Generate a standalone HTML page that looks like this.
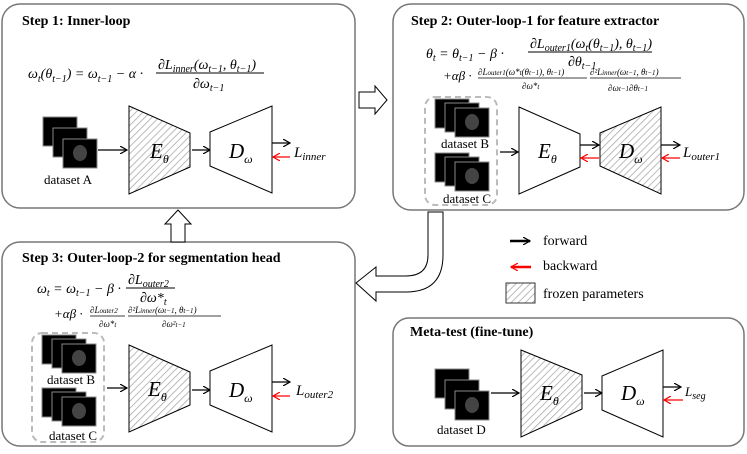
<!DOCTYPE html>
<html><head><meta charset="utf-8"><style>
body{margin:0;background:#fff;}
svg{display:block;font-family:"Liberation Serif",serif;}
.t{font-family:"Liberation Serif",serif;font-weight:bold;font-size:14px;}
.m{font-family:"Liberation Serif",serif;font-style:italic;}
</style></head><body>
<svg width="747" height="454" viewBox="0 0 747 454" xmlns="http://www.w3.org/2000/svg">
<defs>
<pattern id="h" width="5" height="5" patternUnits="userSpaceOnUse" patternTransform="rotate(45)">
<rect width="5" height="5" fill="#fff"/><line x1="0" y1="0" x2="0" y2="5" stroke="#aaa" stroke-width="1.6"/>
</pattern>
<marker id="a" markerWidth="8" markerHeight="8" refX="7" refY="4" orient="auto" markerUnits="userSpaceOnUse"><path d="M0,0 L7,4 L0,8" fill="none" stroke="#000" stroke-width="1.2"/></marker>
<marker id="r" markerWidth="8" markerHeight="8" refX="7" refY="4" orient="auto" markerUnits="userSpaceOnUse"><path d="M0,0 L7,4 L0,8" fill="none" stroke="#f00" stroke-width="1.2"/></marker>
<g id="img"><rect width="34" height="29" fill="#000" stroke="#888" stroke-width="1"/></g>
<g id="stack">
<use href="#img" x="0" y="0"/><use href="#img" x="10" y="11"/><use href="#img" x="20" y="22"/>
<ellipse cx="37" cy="36" rx="7" ry="8" fill="#444"/>
</g>
<g id="stack2">
<use href="#img" x="0" y="0"/><use href="#img" x="10" y="4"/><use href="#img" x="20" y="9"/>
<ellipse cx="37" cy="23" rx="7" ry="8" fill="#444"/>
</g>
</defs>
<g fill="none" stroke="#777" stroke-width="1.5">
<rect x="2" y="4" width="353" height="204" rx="18"/>
<rect x="393" y="4" width="351" height="206" rx="18"/>
<rect x="2" y="242" width="353" height="204" rx="18"/>
<rect x="393" y="318" width="351" height="128" rx="16"/>
</g>
<!-- block arrows -->
<path d="M359,92 L375,92 L375,86 L387,100 L375,114 L375,108 L359,108 Z" fill="#fff" stroke="#000"/>
<path d="M171,242 L171,224 L165,224 L178,210 L191,224 L185,224 L185,242 Z" fill="#fff" stroke="#000"/>
<path d="M428,212 L443,212 L443,255 Q443,292 406,292 L376,292 L376,301 L356,283 L376,267 L376,276 L406,276 Q428,276 428,255 Z" fill="#fff" stroke="#000"/>
<!-- Step 1 -->
<text x="22" y="25" class="t">Step 1: Inner-loop</text>
<text x="28" y="78" font-size="14" class="m">ω<tspan font-size="10" dy="4">t</tspan><tspan dy="-4">(θ</tspan><tspan font-size="10" dy="4">t−1</tspan><tspan dy="-4">) = ω</tspan><tspan font-size="10" dy="4">t−1</tspan><tspan dy="-4"> − α ·</tspan></text>
<text x="158" y="69" font-size="14" class="m">∂L<tspan font-size="10" dy="3">inner</tspan><tspan dy="-3">(ω</tspan><tspan font-size="10" dy="3">t−1</tspan><tspan dy="-3">, θ</tspan><tspan font-size="10" dy="3">t−1</tspan><tspan dy="-3">)</tspan></text>
<line x1="156" y1="73" x2="264" y2="73" stroke="#000"/>
<text x="193" y="88" font-size="14" class="m">∂ω<tspan font-size="10" dy="3">t−1</tspan></text>
<use href="#stack" x="43" y="117"/>
<text x="44" y="184" font-size="13">dataset A</text>
<line x1="98" y1="150" x2="127" y2="150" stroke="#000" stroke-width="1.2" marker-end="url(#a)"/>
<path d="M129,106 L190,133 L190,167 L129,194 Z" fill="url(#h)" stroke="#000"/>
<text x="150" y="158" font-size="21" class="m">E<tspan font-size="12" dy="5">θ</tspan></text>
<line x1="192" y1="150" x2="210" y2="150" stroke="#000" stroke-width="1.2" marker-end="url(#a)"/>
<path d="M210,132 L272,106 L272,193 L210,166 Z" fill="#fff" stroke="#000"/>
<text x="229" y="158" font-size="21" class="m">D<tspan font-size="12" dy="5">ω</tspan></text>
<line x1="272" y1="143" x2="290" y2="143" stroke="#000" stroke-width="1.2" marker-end="url(#a)"/>
<line x1="290" y1="157" x2="273" y2="157" stroke="#f00" stroke-width="1.2" marker-end="url(#r)"/>
<text x="294" y="157" font-size="15" class="m">L<tspan font-size="11" dy="3">inner</tspan></text>
<!-- Step 2 -->
<text x="411" y="25" class="t">Step 2: Outer-loop-1 for feature extractor</text>
<text x="426" y="58" font-size="14" class="m">θ<tspan font-size="10" dy="3">t</tspan><tspan dy="-3"> = θ</tspan><tspan font-size="10" dy="3">t−1</tspan><tspan dy="-3"> − β ·</tspan></text>
<text x="530" y="48" font-size="14" class="m">∂L<tspan font-size="10" dy="3">outer1</tspan><tspan dy="-3">(ω</tspan><tspan font-size="10" dy="3">t</tspan><tspan dy="-3">(θ</tspan><tspan font-size="10" dy="3">t−1</tspan><tspan dy="-3">), θ</tspan><tspan font-size="10" dy="3">t−1</tspan><tspan dy="-3">)</tspan></text>
<line x1="528" y1="52" x2="652" y2="52" stroke="#000"/>
<text x="568" y="66" font-size="14" class="m">∂θ<tspan font-size="10" dy="3">t−1</tspan></text>
<text x="443" y="80" font-size="13" class="m">+αβ ·</text>
<text x="478" y="75" font-size="9" class="m">∂L<tspan font-size="7">outer1</tspan>(ω*<tspan font-size="7">t</tspan>(θ<tspan font-size="7">t−1</tspan>), θ<tspan font-size="7">t−1</tspan>)</text>
<line x1="478" y1="78" x2="587" y2="78" stroke="#000" stroke-width="0.7"/>
<text x="522" y="89" font-size="9" class="m">∂ω*<tspan font-size="7">t</tspan></text>
<text x="590" y="75" font-size="9" class="m">∂²L<tspan font-size="7">inner</tspan>(ω<tspan font-size="7">t−1</tspan>, θ<tspan font-size="7">t−1</tspan>)</text>
<line x1="590" y1="78" x2="681" y2="78" stroke="#000" stroke-width="0.7"/>
<text x="608" y="91" font-size="9" class="m">∂ω<tspan font-size="7">t−1</tspan>∂θ<tspan font-size="7">t−1</tspan></text>
<rect x="425" y="97" width="72" height="108" rx="10" fill="none" stroke="#bbb" stroke-width="2" stroke-dasharray="6,4"/>
<use href="#stack2" x="435" y="99"/>
<text x="441" y="148" font-size="13">dataset B</text>
<use href="#stack2" x="435" y="153"/>
<text x="443" y="203" font-size="13">dataset C</text>
<line x1="500" y1="152" x2="518" y2="152" stroke="#000" stroke-width="1.2" marker-end="url(#a)"/>
<path d="M519,107 L580,134 L580,167 L519,194 Z" fill="#fff" stroke="#000"/>
<text x="538" y="158" font-size="21" class="m">E<tspan font-size="12" dy="5">θ</tspan></text>
<line x1="580" y1="145" x2="599" y2="145" stroke="#000" stroke-width="1.2" marker-end="url(#a)"/>
<line x1="599" y1="158" x2="581" y2="158" stroke="#f00" stroke-width="1.2" marker-end="url(#r)"/>
<path d="M600,133 L661,107 L661,194 L600,166 Z" fill="url(#h)" stroke="#000"/>
<text x="619" y="158" font-size="21" class="m">D<tspan font-size="12" dy="5">ω</tspan></text>
<line x1="661" y1="145" x2="680" y2="145" stroke="#000" stroke-width="1.2" marker-end="url(#a)"/>
<line x1="680" y1="158" x2="662" y2="158" stroke="#f00" stroke-width="1.2" marker-end="url(#r)"/>
<text x="683" y="157" font-size="15" class="m">L<tspan font-size="11" dy="3">outer1</tspan></text>
<!-- Step 3 -->
<text x="22" y="262" class="t">Step 3: Outer-loop-2 for segmentation head</text>
<text x="37" y="293" font-size="14" class="m">ω<tspan font-size="10" dy="3">t</tspan><tspan dy="-3"> = ω</tspan><tspan font-size="10" dy="3">t−1</tspan><tspan dy="-3"> − β ·</tspan></text>
<text x="128" y="284" font-size="14" class="m">∂L<tspan font-size="10" dy="3">outer2</tspan></text>
<line x1="126" y1="288" x2="175" y2="288" stroke="#000"/>
<text x="140" y="302" font-size="14" class="m">∂ω*<tspan font-size="10" dy="3">t</tspan></text>
<text x="54" y="318" font-size="13" class="m">+αβ ·</text>
<text x="90" y="313" font-size="9" class="m">∂L<tspan font-size="7">outer2</tspan></text>
<line x1="90" y1="316" x2="125" y2="316" stroke="#000" stroke-width="0.7"/>
<text x="99" y="327" font-size="9" class="m">∂ω*<tspan font-size="7">t</tspan></text>
<text x="128" y="313" font-size="9" class="m">∂²L<tspan font-size="7">inner</tspan>(ω<tspan font-size="7">t−1</tspan>, θ<tspan font-size="7">t−1</tspan>)</text>
<line x1="128" y1="316" x2="221" y2="316" stroke="#000" stroke-width="0.7"/>
<text x="162" y="327" font-size="9" class="m">∂ω²<tspan font-size="7">t−1</tspan></text>
<rect x="32" y="333" width="72" height="109" rx="10" fill="none" stroke="#bbb" stroke-width="2" stroke-dasharray="6,4"/>
<use href="#stack2" x="42" y="335"/>
<text x="47" y="384" font-size="13">dataset B</text>
<use href="#stack2" x="42" y="388"/>
<text x="49" y="440" font-size="13">dataset C</text>
<line x1="107" y1="388" x2="127" y2="388" stroke="#000" stroke-width="1.2" marker-end="url(#a)"/>
<path d="M129,345 L190,372 L190,405 L129,432 Z" fill="url(#h)" stroke="#000"/>
<text x="148" y="396" font-size="21" class="m">E<tspan font-size="12" dy="5">θ</tspan></text>
<line x1="192" y1="390" x2="210" y2="390" stroke="#000" stroke-width="1.2" marker-end="url(#a)"/>
<path d="M210,371 L272,345 L272,432 L210,405 Z" fill="#fff" stroke="#000"/>
<text x="229" y="397" font-size="21" class="m">D<tspan font-size="12" dy="5">ω</tspan></text>
<line x1="272" y1="382" x2="290" y2="382" stroke="#000" stroke-width="1.2" marker-end="url(#a)"/>
<line x1="290" y1="396" x2="273" y2="396" stroke="#f00" stroke-width="1.2" marker-end="url(#r)"/>
<text x="296" y="395" font-size="15" class="m">L<tspan font-size="11" dy="3">outer2</tspan></text>
<!-- Legend -->
<line x1="510" y1="241" x2="530" y2="241" stroke="#000" stroke-width="2.5" marker-end="url(#a)"/>
<text x="543" y="245" font-size="14">forward</text>
<line x1="531" y1="267" x2="511" y2="267" stroke="#f00" stroke-width="2.5" marker-end="url(#r)"/>
<text x="543" y="270" font-size="14">backward</text>
<rect x="506" y="283" width="29" height="20" fill="url(#h)" stroke="#333"/>
<text x="543" y="298" font-size="14">frozen parameters</text>
<!-- Meta-test -->
<text x="410" y="336" class="t">Meta-test (fine-tune)</text>
<use href="#stack" x="435" y="369"/>
<text x="437" y="434" font-size="13">dataset D</text>
<line x1="491" y1="393" x2="519" y2="393" stroke="#000" stroke-width="1.2" marker-end="url(#a)"/>
<path d="M521,350 L582,375 L582,409 L521,437 Z" fill="url(#h)" stroke="#000"/>
<text x="540" y="400" font-size="21" class="m">E<tspan font-size="12" dy="5">θ</tspan></text>
<line x1="584" y1="393" x2="602" y2="393" stroke="#000" stroke-width="1.2" marker-end="url(#a)"/>
<path d="M602,376 L663,350 L663,437 L602,410 Z" fill="#fff" stroke="#000"/>
<text x="621" y="400" font-size="21" class="m">D<tspan font-size="12" dy="5">ω</tspan></text>
<line x1="663" y1="387" x2="681" y2="387" stroke="#000" stroke-width="1.2" marker-end="url(#a)"/>
<line x1="683" y1="400" x2="664" y2="400" stroke="#f00" stroke-width="1.2" marker-end="url(#r)"/>
<text x="685" y="396" font-size="13" class="m">L<tspan font-size="10" dy="3">seg</tspan></text>
</svg>
</body></html>
